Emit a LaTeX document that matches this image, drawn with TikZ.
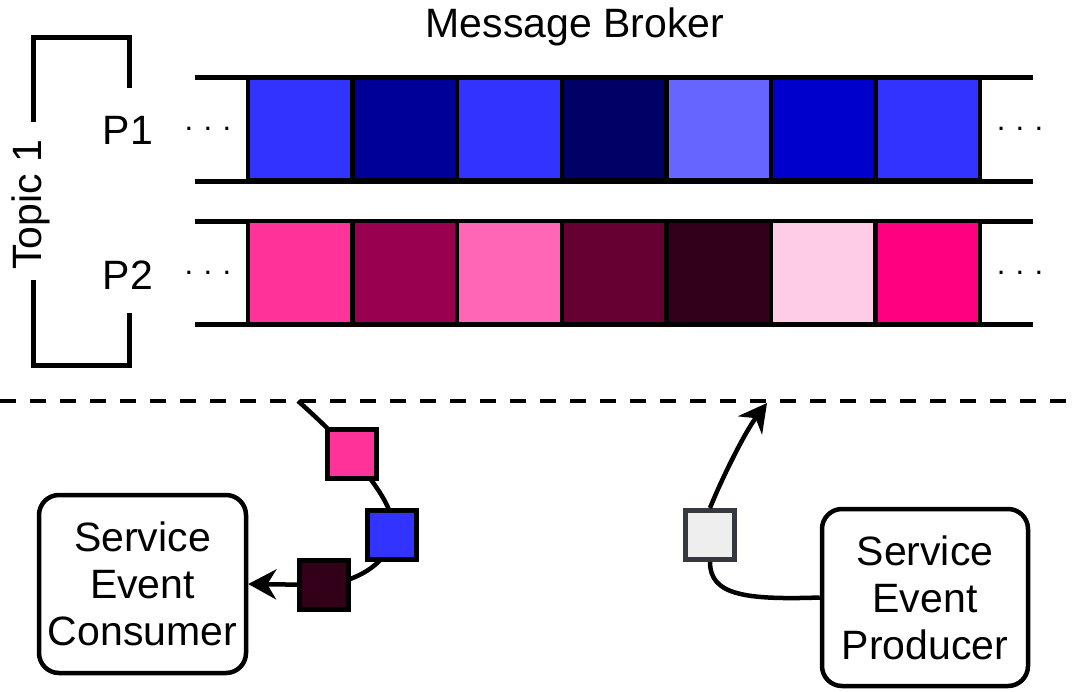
\documentclass[tikz,border=0pt]{standalone}
\usepackage{fontspec}
\setmainfont{Liberation Sans}
\usetikzlibrary{arrows.meta}
\definecolor{bA}{HTML}{3333FF}
\definecolor{bB}{HTML}{000099}
\definecolor{bC}{HTML}{000066}
\definecolor{bD}{HTML}{6666FF}
\definecolor{bE}{HTML}{0000CC}
\definecolor{pA}{HTML}{FF3399}
\definecolor{pB}{HTML}{99004D}
\definecolor{pC}{HTML}{FF66B3}
\definecolor{pD}{HTML}{660033}
\definecolor{pE}{HTML}{33001A}
\definecolor{pF}{HTML}{FFCCE6}
\definecolor{pG}{HTML}{FF0080}
\definecolor{gfill}{HTML}{EEEEEE}
\definecolor{gline}{HTML}{36393D}
\begin{document}
\begin{tikzpicture}[x=1pt,y=-1pt,
  txt/.style={font=\fontsize{41}{47}\selectfont, inner sep=0pt},
  dots/.style={font=\fontsize{31}{31}\selectfont, inner sep=0pt, anchor=base},
  cell/.style={draw=black, line width=4.5pt, minimum width=104.6pt, minimum height=103pt, inner sep=0pt, fill=#1},
  rowline/.style={line width=5pt},
  bracket/.style={line width=5pt},
  svc/.style={draw=black, line width=4.5pt, rounded corners=20pt, align=center, font=\fontsize{41}{47}\selectfont, inner sep=0pt},
  msg/.style={draw=black, line width=5pt, minimum size=49pt, inner sep=0pt, fill=#1},
  conn/.style={line width=4.5pt},
  tip/.style={-{Stealth[length=28pt,width=30pt,inset=9pt]}}
]
\useasboundingbox (0,0) rectangle (1079,691);

% title
\node[txt] (title) at (575,27) {Message Broker};

% topic bracket
\draw[bracket] (33,122) -- (33,37) -- (129,37) -- (129,88);
\draw[bracket] (33,280) -- (33,365) -- (129,365) -- (129,313);
\node[txt, rotate=90] (topic) at (31,205) {Topic 1};
\node[txt] (p1) at (128,130) {P1};
\node[txt] (p2) at (128,275) {P2};

% partition rows
\coordinate (r1tl) at (195,77);
\coordinate (r1tr) at (1033,77);
\coordinate (r1bl) at (195,181);
\coordinate (r1br) at (1033,181);
\coordinate (r2tl) at (195,221);
\coordinate (r2tr) at (1033,221);
\coordinate (r2bl) at (195,324);
\coordinate (r2br) at (1033,324);
\draw[rowline] (r1tl) -- (r1tr);
\draw[rowline] (r1bl) -- (r1br);
\draw[rowline] (r2tl) -- (r2tr);
\draw[rowline] (r2bl) -- (r2br);

\foreach \c [count=\i from 0] in {bA,bB,bA,bC,bD,bE,bA}{
  \node[cell=\c] (a\i) at (300.3+104.6*\i,129) {};
}
\foreach \c [count=\i from 0] in {pA,pB,pC,pD,pE,pF,pG}{
  \node[cell=\c] (b\i) at (300.3+104.6*\i,272.5) {};
}

\node[dots] (d1l) at (208,130) {.\,\,.\,\,.};
\node[dots] (d1r) at (1020,130) {.\,\,.\,\,.};
\node[dots] (d2l) at (208,274) {.\,\,.\,\,.};
\node[dots] (d2r) at (1020,274) {.\,\,.\,\,.};

% separator
\coordinate (sepl) at (0,401);
\coordinate (sepr) at (1079,401);
\draw[line width=4pt, dash pattern=on 16pt off 14pt] (sepl) -- (sepr);

% services
\node[svc, minimum width=207pt, minimum height=178pt] (cons) at (142.5,584) {Service\\Event\\Consumer};
\node[svc, minimum width=206pt, minimum height=177pt] (prod) at (925,597.5) {Service\\Event\\Producer};

% consumer path
\coordinate (cstart) at (298,401);
\draw[conn, tip] (cstart) .. controls (325,425) and (345,445) .. (360,465)
   .. controls (375,485) and (400,515) .. (392,540)
   .. controls (385,565) and (355,582) .. (324,585) -- (cons.east);
\node[msg=pA] (m1) at (352,454) {};
\node[msg=bA] (m2) at (392,535) {};
\node[msg=pE] (m3) at (324,585) {};

% producer path
\node[draw=gline, line width=5pt, minimum size=49pt, inner sep=0pt, fill=gfill] (g) at (710,535) {};
\coordinate (pend) at (767,403);
\draw[conn] (prod.west) .. controls (745,600) and (710,595) .. (g.south);
\draw[conn, tip] (g.north) .. controls (722,478) and (745,432) .. (pend);
\end{tikzpicture}
\end{document}
